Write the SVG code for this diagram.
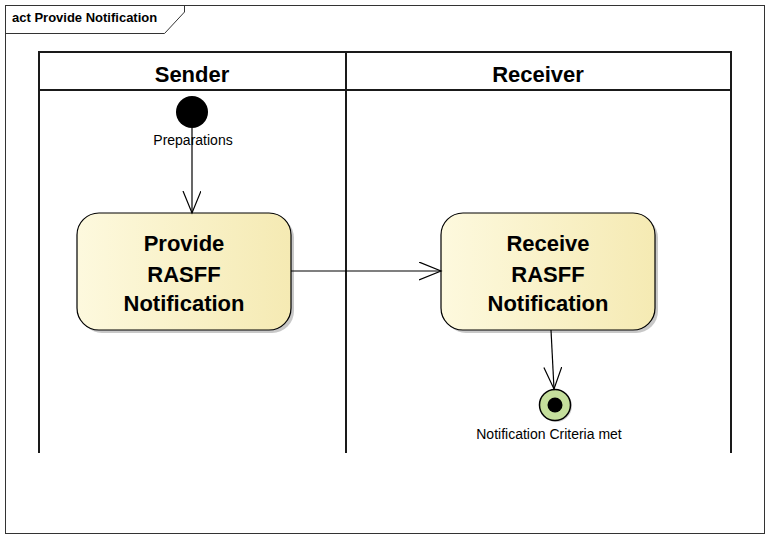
<svg xmlns="http://www.w3.org/2000/svg" width="766" height="538" viewBox="0 0 766 538">
<style>
.frame{fill:#fff;stroke:#333;stroke-width:1}
.lane{fill:none;stroke:#1a1a1a;stroke-width:2}
.act{stroke:#000;stroke-width:1.2}
.shadow{fill:#c8c8c8}
.t{font-family:"Liberation Sans",Arial,sans-serif;fill:#000}
.b{font-weight:bold}
.edge{fill:none;stroke:#000;stroke-width:1.2}
</style>
<defs>
<linearGradient id="g" x1="0" y1="0" x2="1" y2="0">
<stop offset="0" stop-color="#fdf9de"/>
<stop offset="1" stop-color="#f5eab3"/>
</linearGradient>
<marker id="arr" markerWidth="24" markerHeight="20" refX="22" refY="9" orient="auto" markerUnits="userSpaceOnUse">
<path d="M0,0 L22,9 L0,18" fill="none" stroke="#000" stroke-width="1.2"/>
</marker>
</defs>
<rect x="0" y="0" width="766" height="538" fill="#fff"/>
<g id="frame">
<rect class="frame" x="5.5" y="5.5" width="759" height="528"/>
<path d="M5.5,33.5 H164.5 L184.5,12 V5.5" fill="none" stroke="#333" stroke-width="1"/>
<text class="t b" x="12" y="22" font-size="13">act Provide Notification</text>
</g>
<g id="lanes">
<path class="lane" d="M39,453 V52 H731 V453 M39,90 H731 M346,52 V453"/>
<text class="t b" x="192" y="82" font-size="22" text-anchor="middle">Sender</text>
<text class="t b" x="538" y="82" font-size="22" text-anchor="middle">Receiver</text>
</g>
<g id="initial">
<circle cx="192" cy="112" r="16" fill="#000"/>
<text class="t" x="193" y="145" font-size="14" text-anchor="middle">Preparations</text>
</g>
<g id="provide">
<rect class="shadow" x="80" y="216" width="214" height="117" rx="22"/>
<rect class="act" x="77" y="213" width="214" height="117" rx="22" fill="url(#g)"/>
<text class="t b" x="184" y="251" font-size="22" text-anchor="middle">Provide</text>
<text class="t b" x="184" y="282" font-size="22" text-anchor="middle">RASFF</text>
<text class="t b" x="184" y="311" font-size="22" text-anchor="middle">Notification</text>
</g>
<g id="receive">
<rect class="shadow" x="444" y="216" width="214" height="117" rx="22"/>
<rect class="act" x="441" y="213" width="214" height="117" rx="22" fill="url(#g)"/>
<text class="t b" x="548" y="251" font-size="22" text-anchor="middle">Receive</text>
<text class="t b" x="548" y="282" font-size="22" text-anchor="middle">RASFF</text>
<text class="t b" x="548" y="311" font-size="22" text-anchor="middle">Notification</text>
</g>
<g id="final">
<circle cx="556" cy="406" r="16" fill="#d0d0d0"/>
<circle cx="555" cy="405" r="15.5" fill="#c5df9c" stroke="#000" stroke-width="1.5"/>
<circle cx="555" cy="405" r="7.5" fill="#000"/>
<text class="t" x="549" y="439" font-size="14" text-anchor="middle">Notification Criteria met</text>
</g>
<g id="connectors">
<path class="edge" d="M192,128 V213" marker-end="url(#arr)"/>
<path class="edge" d="M291,271 H441" marker-end="url(#arr)"/>
<path class="edge" d="M551,330 L554,389" marker-end="url(#arr)"/>
</g>
</svg>
